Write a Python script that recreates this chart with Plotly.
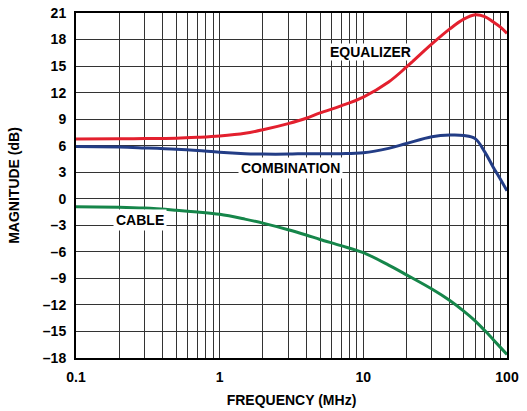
import plotly.graph_objects as go
import math

freq = [0.1, 0.2, 0.3, 0.5, 0.7, 1, 1.5, 2, 3, 4, 5, 7, 10, 15, 20, 30, 40, 50, 60, 70, 80, 90, 100]
equalizer = [6.75, 6.78, 6.8, 6.85, 6.95, 7.1, 7.4, 7.8, 8.5, 9.1, 9.7, 10.5, 11.5, 13.2, 14.9, 17.5, 19.2, 20.3, 20.8, 20.6, 20.0, 19.4, 18.7]
combination = [5.9, 5.85, 5.75, 5.6, 5.45, 5.25, 5.1, 5.05, 5.05, 5.1, 5.1, 5.1, 5.2, 5.7, 6.25, 7.0, 7.2, 7.15, 6.8, 5.3, 3.6, 2.2, 0.9]
cable = [-0.9, -0.95, -1.05, -1.3, -1.5, -1.76, -2.3, -2.75, -3.5, -4.1, -4.6, -5.3, -6.1, -7.5, -8.6, -10.2, -11.5, -12.7, -13.8, -14.9, -15.9, -16.8, -17.6]

x_major = [0.1, 1, 10, 100]
x_labels = ["0.1", "1", "10", "100"]
y_ticks = list(range(-18, 22, 3))
y_labels = [("–" + str(-v)) if v < 0 else str(v) for v in y_ticks]

FONT = "Liberation Sans, Arial, sans-serif"
FS = 14

# all grid positions 1..9 per decade
xgrid = []
for d in [0.1, 1, 10]:
    for k in range(1, 10):
        xgrid.append(round(d * k, 6))
xgrid.append(100)
xtext = []
for v in xgrid:
    if v in x_major:
        xtext.append(x_labels[x_major.index(v)])
    else:
        xtext.append("")

fig = go.Figure()
series = [
    ("EQUALIZER", equalizer, "#e3202e"),
    ("COMBINATION", combination, "#233d86"),
    ("CABLE", cable, "#16864a"),
]
for name, ys, col in series:
    fig.add_trace(go.Scatter(x=freq, y=ys, mode="lines", name=name,
                             line=dict(color=col, width=3, shape="spline", smoothing=1.0),
                             showlegend=False, cliponaxis=True))

labels = [("EQUALIZER", 11.2, 16.6, 0), ("COMBINATION", 3.11, 3.45, 2), ("CABLE", 0.281, -2.4, 2)]
for txt, lx, ly, bp in labels:
    fig.add_annotation(x=math.log10(lx), y=ly, text="<b>" + txt + "</b>", showarrow=False,
                       font=dict(family=FONT, size=FS, color="black"),
                       bgcolor="white", borderpad=bp)

fig.update_xaxes(type="log", range=[-1, 2], tickvals=xgrid, ticktext=xtext,
                 showgrid=True, gridcolor="#333333", gridwidth=1.2, automargin=False,
                 showline=True, mirror=True, linecolor="black", linewidth=2,
                 ticks="outside", ticklen=5, tickcolor="rgba(0,0,0,0)",
                 tickfont=dict(family=FONT, size=FS, color="black", weight="bold"),
                 title=dict(text="<b>FREQUENCY (MHz)</b>", font=dict(family=FONT, size=FS, color="black"),
                            standoff=11))
fig.update_yaxes(range=[-18, 21], tickvals=y_ticks, ticktext=y_labels,
                 showgrid=True, gridcolor="#333333", gridwidth=1.2, zeroline=False, automargin=False,
                 showline=True, mirror=True, linecolor="black", linewidth=2,
                 ticks="outside", ticklen=5, tickcolor="rgba(0,0,0,0)",
                 tickfont=dict(family=FONT, size=FS, color="black", weight="bold"),
                 title=dict(text="<b>MAGNITUDE (dB)</b>", font=dict(family=FONT, size=FS, color="black"),
                            standoff=20))

fig.update_layout(width=527, height=411, margin=dict(l=76, r=20, t=13, b=53),
                  paper_bgcolor="white", plot_bgcolor="white")

fig.write_html("out.html")
